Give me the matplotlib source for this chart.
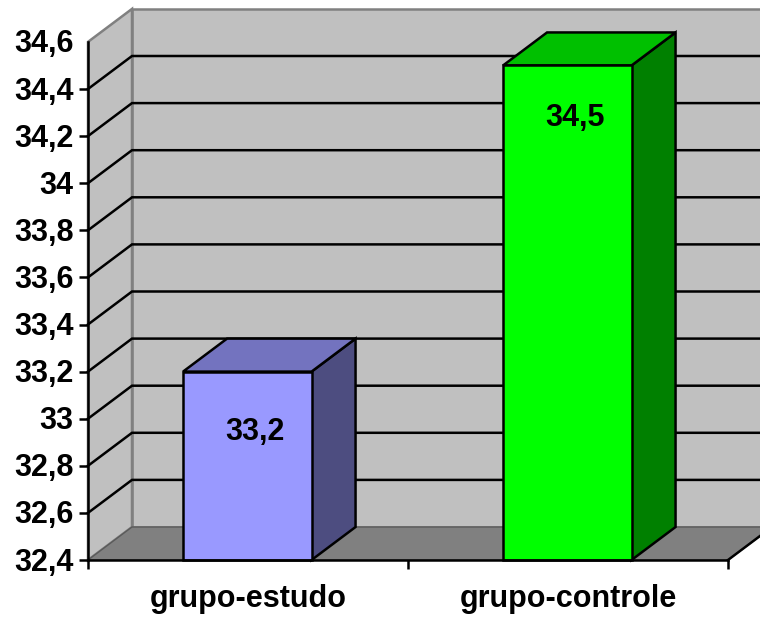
import matplotlib
matplotlib.use("Agg")
import matplotlib.pyplot as plt
from matplotlib.patches import Polygon
from matplotlib.transforms import ScaledTranslation

categories = ["grupo-estudo", "grupo-controle"]
values = [33.2, 34.5]
value_labels = ["33,2", "34,5"]
y_ticks = [32.4, 32.6, 32.8, 33.0, 33.2, 33.4, 33.6, 33.8, 34.0, 34.2, 34.4, 34.6]
y_tick_labels = ["32,4", "32,6", "32,8", "33", "33,2", "33,4", "33,6", "33,8", "34", "34,2", "34,4", "34,6"]
face_colors = ["#9999FF", "#00FF00"]
top_colors = ["#7373BF", "#00C000"]
side_colors = ["#4D4D80", "#008000"]

W, H = 760, 619
plt.rcParams["font.family"] = ["Liberation Sans", "DejaVu Sans"]
plt.rcParams["font.weight"] = "bold"

fig = plt.figure(figsize=(W / 100, H / 100), dpi=100, facecolor="white")
ax = fig.add_axes([88 / W, 1 - 560 / H, 640 / W, 518.1 / H])
ax.set_xlim(0, 2)
ax.set_ylim(y_ticks[0], y_ticks[-1])
ax.patch.set_visible(False)

# depth of the pseudo-3D box, in data units
DX = 44 / 320
DY = 33 / (518.1 / (y_ticks[-1] - y_ticks[0]))
LW = 1.8
FS = 22
y0, y1 = y_ticks[0], y_ticks[-1]
GRAY = "#808080"


def poly(points, face, edge, lw=LW, z=1):
    ax.add_patch(Polygon(points, closed=True, facecolor=face, edgecolor=edge,
                         linewidth=lw, zorder=z, clip_on=False, joinstyle="miter"))


# back wall, side wall and floor
poly([(DX, y0 + DY), (2.4, y0 + DY), (2.4, y1 + DY), (DX, y1 + DY)], "#C0C0C0", GRAY, z=1)
poly([(0, y0), (DX, y0 + DY), (DX, y1 + DY), (0, y1)], "#C0C0C0", GRAY, z=1.1)
poly([(0, y0), (DX, y0 + DY), (2 + DX, y0 + DY), (2, y0)], GRAY, "#5A5A5A", lw=1, z=1.2)
ax.plot([2, 2 + DX], [y0, y0 + DY], color="black", lw=LW, zorder=1.3, clip_on=False)

# gridlines run along the side wall, then across the back wall
for t in y_ticks[1:-1]:
    ax.plot([0, DX, 2.4], [t, t + DY, t + DY], color="black", lw=LW, zorder=1.5,
            clip_on=False, solid_joinstyle="miter")

# bars as extruded boxes; labels sit a little below each front top edge
BAR_W = 128.5 / 320
BAR_SHIFT = 0.7 / 320
label_drop = [-60, -53]
for i, (val, lab) in enumerate(zip(values, value_labels)):
    c = i + 0.5 - BAR_SHIFT
    l, r = c - BAR_W / 2, c + BAR_W / 2
    poly([(r, y0), (r + DX, y0 + DY), (r + DX, val + DY), (r, val)], side_colors[i], "black", z=3)
    poly([(l, val), (r, val), (r + DX, val + DY), (l + DX, val + DY)], top_colors[i], "black", z=3)
    poly([(l, y0), (r, y0), (r, val), (l, val)], face_colors[i], "black", z=3.1)
    ax.annotate(lab, xy=(c, val), xytext=(8, label_drop[i]), xycoords="data", textcoords="offset pixels",
                ha="center", va="center", fontsize=FS, fontweight="bold", color="black", zorder=4)

for side in ("top", "right"):
    ax.spines[side].set_visible(False)
for side in ("left", "bottom"):
    ax.spines[side].set_linewidth(LW)
    ax.spines[side].set_zorder(5)

ax.set_yticks(y_ticks, y_tick_labels)
ax.tick_params(axis="y", length=6.5, width=LW, pad=4, labelsize=FS, zorder=5)
ax.yaxis.get_major_ticks()[-1].tick1line.set_visible(False)
nudge = ScaledTranslation(0, 0.7 / 72, fig.dpi_scale_trans)
for label in ax.get_yticklabels():
    label.set_transform(label.get_transform() + nudge)

ax.set_xticks([0, 1, 2], ["", "", ""])
ax.set_xticks([0.5, 1.5], categories, minor=True)
ax.tick_params(axis="x", which="major", length=6.5, width=LW)
ax.tick_params(axis="x", which="minor", length=0, pad=17, labelsize=FS)

fig.savefig("out.png", dpi=100, facecolor="white")
